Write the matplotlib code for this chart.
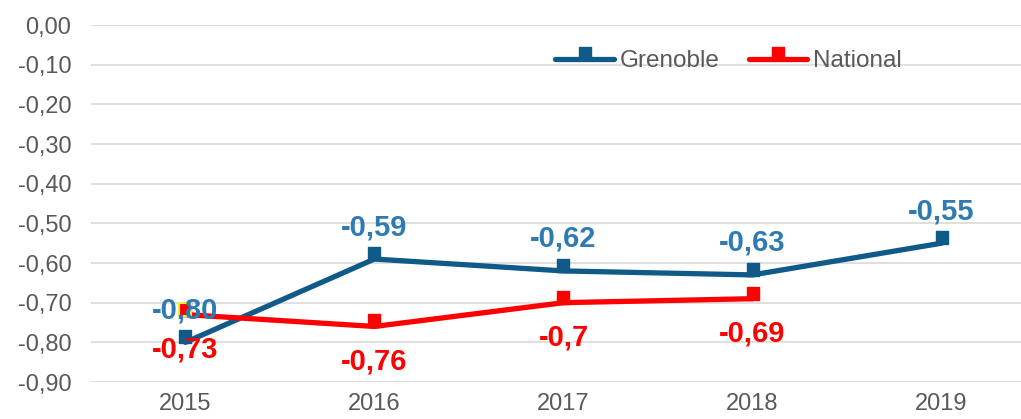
import numpy as np
import matplotlib
matplotlib.use('Agg')
import matplotlib.pyplot as plt
from matplotlib.ticker import FuncFormatter

years = ['2015', '2016', '2017', '2018', '2019']
grenoble = [-0.80, -0.59, -0.62, -0.63, -0.55]
national = [-0.73, -0.76, -0.70, -0.69, np.nan]
grenoble_labels = ['-0,80', '-0,59', '-0,62', '-0,63', '-0,55']
national_labels = ['-0,73', '-0,76', '-0,7', '-0,69', '']

plt.rcParams['font.family'] = ['Liberation Sans', 'DejaVu Sans']

blue = '#0F5A88'
blue_txt = '#2E7BB3'
red = '#FF0000'
grey = '#595959'

# square marker sitting above the point, like the excel export
up_square = [(-1, -0.1), (1, -0.1), (1, 1.9), (-1, 1.9), (-1, -0.1)]


def fmt(v, pos):
    v = round(v, 2) + 0.0
    return '{:.2f}'.format(v).replace('.', ',')


fig = plt.figure(figsize=(10.21, 4.19), dpi=100)
ax = fig.add_axes([0.089, 0.0883, 0.911, 0.852])

x = np.arange(len(years))
ax.plot(x, grenoble, color=blue, lw=3.8, marker=up_square, ms=17,
        mfc=blue, mec=blue, label='Grenoble', zorder=3, solid_capstyle='round')
ax.plot(x, national, color=red, lw=3.8, marker=up_square, ms=17,
        mfc=red, mec=red, label='National', zorder=4, solid_capstyle='round')
# first national marker has a yellow border
ax.plot(x[:1], national[:1], ls='none', marker=up_square, ms=17,
        mfc=red, mec='#E8F03A', mew=1.5, zorder=5)

for i, v in enumerate(grenoble):
    ax.annotate(grenoble_labels[i], (x[i], v), xytext=(0, 23), textcoords='offset points',
                ha='center', va='center', color=blue_txt, fontsize=21, fontweight='bold', zorder=6)
for i, v in enumerate(national):
    if national_labels[i]:
        ax.annotate(national_labels[i], (x[i], v), xytext=(0, -25), textcoords='offset points',
                    ha='center', va='center', color=red, fontsize=21, fontweight='bold', zorder=6)

ax.set_xlim(-0.5, 4.42)
ax.set_ylim(-0.9, 0)
ax.set_yticks(np.arange(-0.9, 0.01, 0.1))
ax.yaxis.set_major_formatter(FuncFormatter(fmt))
ax.set_xticks(x)
ax.set_xticklabels(years)
ax.tick_params(axis='both', length=0, labelsize=17, labelcolor=grey)
ax.tick_params(axis='y', pad=14)
ax.tick_params(axis='x', pad=8)
ax.grid(axis='y', color='#D9D9D9', lw=1.2)
for s in ax.spines.values():
    s.set_visible(False)

leg = ax.legend(loc='upper left', bbox_to_anchor=(0.476, 0.99), ncol=2, frameon=False,
                fontsize=17.5, labelcolor=grey, handlelength=2.4, columnspacing=1.2,
                handletextpad=0.25)

fig.savefig('out.png', dpi=100)
